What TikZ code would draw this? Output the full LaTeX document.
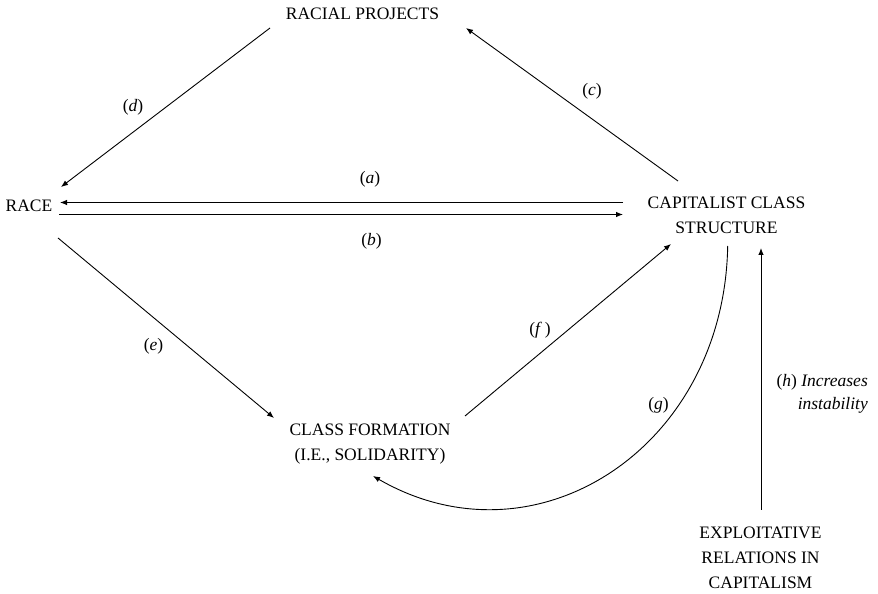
\documentclass[tikz,border=0pt]{standalone}
\usepackage{fontspec}
\setmainfont{Liberation Serif}
\usetikzlibrary{arrows.meta}
\begin{document}
\begin{tikzpicture}[x=1pt,y=1pt,
  box/.style={font=\fontsize{17.5}{25}\selectfont, inner sep=0pt, align=center},
  lab/.style={font=\fontsize{17.5}{23}\selectfont, inner sep=0pt},
  arr/.style={line width=0.9pt, -{Latex[length=7pt,width=5.5pt]}}]
\useasboundingbox (0,0) rectangle (878,594);
% nodes
\node[box, anchor=base] (rp) at (362.5,574) {RACIAL PROJECTS};
\node[box, anchor=base] (race) at (29,382) {RACE};
\node[box, anchor=north] (ccs) at (726.5,397.6) {CAPITALIST CLASS\\STRUCTURE};
\node[box, anchor=north] (cf) at (370,170.6) {CLASS FORMATION\\(I.E., SOLIDARITY)};
\node[box, anchor=north] (exp) at (760.5,67.6) {EXPLOITATIVE\\RELATIONS IN\\CAPITALISM};
% connectors
\draw[arr] ([shift={(-103.5,-6.1)}]ccs.north) -- ([shift={(31,9.5)}]race.base);
\draw[arr] ([shift={(30,-2.5)}]race.base) -- ([shift={(-103.5,-18.1)}]ccs.north);
\draw[arr] ([shift={(-48.5,15.4)}]ccs.north) -- ([shift={(103.5,-8)}]rp.base);
\draw[arr] ([shift={(-92.5,-8)}]rp.base) -- ([shift={(32,25)}]race.base);
\draw[arr] ([shift={(29,-26)}]race.base) -- ([shift={(-96,5.4)}]cf.north);
\draw[arr] ([shift={(95,7.4)}]cf.north) -- ([shift={(-55.5,-47.6)}]ccs.north);
\draw[arr] ([shift={(1.2,-49.6)}]ccs.north) to[out=-91, in=-30, out distance=202pt, in distance=188pt] ([shift={(3,-52.6)}]cf.north);
\draw[arr] ([shift={(0.5,16.4)}]exp.north) -- ([shift={(34.5,-51.6)}]ccs.north);
% labels
\node[lab] (la) at (370,415) {(\textit{a})};
\node[lab] (lb) at (371.5,353) {(\textit{b})};
\node[lab] (lc) at (592,503) {(\textit{c})};
\node[lab] (ld) at (133,487) {(\textit{d})};
\node[lab] (le) at (153.5,248) {(\textit{e})};
\node[lab] (lf) at (540,264) {(\textit{f}\,)};
\node[lab] (lg) at (658.5,189) {(\textit{g})};
\node[lab, align=right, anchor=north east] (lh) at (868,220) {(\textit{h}) \textit{Increases}\\\textit{instability}};
\end{tikzpicture}
\end{document}
